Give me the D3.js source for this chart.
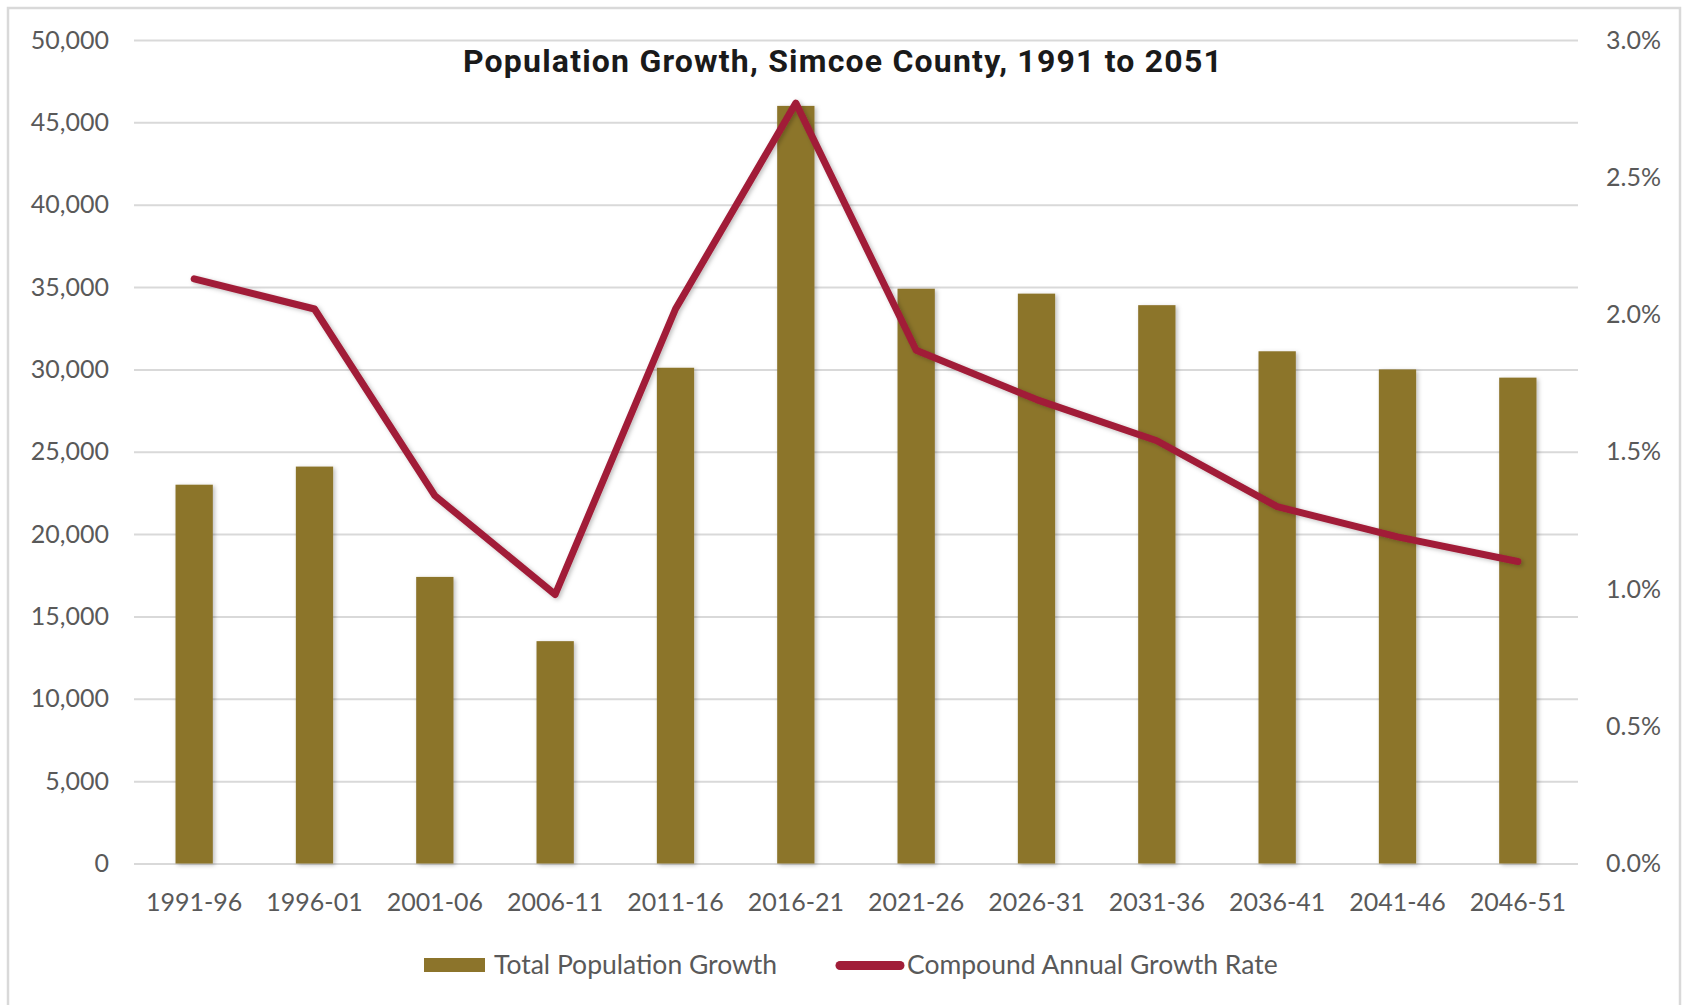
<!DOCTYPE html>
<html>
<head>
<meta charset="utf-8">
<script src="https://cdn.jsdelivr.net/npm/d3@7"></script>
<style>
  html, body { margin: 0; padding: 0; background: #ffffff; }
  svg { display: block; }
</style>
</head>
<body>
<svg id="chart" width="1686" height="1005"></svg>
<script>
// Five-year periods
const periods = ["1991-96", "1996-01", "2001-06", "2006-11", "2011-16", "2016-21",
                 "2021-26", "2026-31", "2031-36", "2036-41", "2041-46", "2046-51"];
// Total population growth per period (persons)
const populationGrowth = [23000, 24100, 17400, 13500, 30100, 46000,
                          34900, 34600, 33900, 31100, 30000, 29500];
// Compound annual growth rate per period (%)
const growthRate = [2.13, 2.02, 1.34, 0.98, 2.02, 2.77,
                    1.87, 1.69, 1.54, 1.30, 1.19, 1.10];
// Axis ticks
const leftTicks = [0, 5000, 10000, 15000, 20000, 25000, 30000, 35000, 40000, 45000, 50000];
const rightTicks = [0, 0.5, 1.0, 1.5, 2.0, 2.5, 3.0];

const titleText = "Population Growth, Simcoe County, 1991 to 2051";
const seriesNames = ["Total Population Growth", "Compound Annual Growth Rate"];

const barColor = "#8c742b";
const lineColor = "#a11d38";
const textColor = "#595959";
const gridColor = "#d9d9d9";
const font = "Lato, 'Open Sans', sans-serif";

const svg = d3.select("#chart");

// Outer frame
svg.append("rect")
  .attr("x", 8).attr("y", 8).attr("width", 1672).attr("height", 1010)
  .attr("fill", "none").attr("stroke", "#d9d9d9").attr("stroke-width", 2.5);

const plot = { left: 134, right: 1578, top: 40, bottom: 863.5 };

const x = d3.scaleBand().domain(periods)
  .range([plot.left, plot.right]).paddingInner(0.69).paddingOuter(0.345);
const yLeft = d3.scaleLinear().domain([0, 50000]).range([plot.bottom, plot.top]);
const yRight = d3.scaleLinear().domain([0, 3.0]).range([plot.bottom, plot.top]);

// Soft shadow used by bars and line
const defs = svg.append("defs");
const shadow = defs.append("filter").attr("id", "soft").attr("x", "-20%").attr("y", "-5%")
  .attr("width", "160%").attr("height", "115%");
shadow.append("feDropShadow").attr("dx", 2).attr("dy", 1.5).attr("stdDeviation", 2)
  .attr("flood-color", "#000").attr("flood-opacity", 0.25);

// Gridlines
const grid = svg.append("g")
  .attr("transform", `translate(${plot.left},0)`)
  .call(d3.axisLeft(yLeft).tickValues(leftTicks).tickSize(-(plot.right - plot.left)).tickFormat(""));
grid.select(".domain").remove();
grid.selectAll(".tick line").attr("stroke", gridColor).attr("stroke-width", 2);

// Left axis labels
const leftAxis = svg.append("g")
  .attr("transform", `translate(${plot.left},0)`)
  .call(d3.axisLeft(yLeft).tickValues(leftTicks).tickSize(0).tickPadding(25)
    .tickFormat(d3.format(",")));
leftAxis.select(".domain").remove();
leftAxis.selectAll("text").attr("fill", textColor).style("font-family", font).style("font-size", "25px");

// Right axis labels
const rightAxis = svg.append("g")
  .attr("transform", `translate(${plot.right},0)`)
  .call(d3.axisRight(yRight).tickValues(rightTicks).tickSize(0).tickPadding(28)
    .tickFormat(d => d3.format(".1f")(d) + "%"));
rightAxis.select(".domain").remove();
rightAxis.selectAll("text").attr("fill", textColor).style("font-family", font).style("font-size", "25px");

// Category axis labels
const bottomAxis = svg.append("g")
  .attr("transform", `translate(0,${plot.bottom})`)
  .call(d3.axisBottom(x).tickSize(0).tickPadding(30));
bottomAxis.select(".domain").remove();
bottomAxis.selectAll("text").attr("fill", textColor).style("font-family", font).style("font-size", "25px");

// Bars
svg.append("g").attr("filter", "url(#soft)")
  .selectAll("rect").data(periods).join("rect")
  .attr("x", d => x(d))
  .attr("width", x.bandwidth())
  .attr("y", (d, i) => yLeft(populationGrowth[i]))
  .attr("height", (d, i) => yLeft(0) - yLeft(populationGrowth[i]))
  .attr("fill", barColor);

// Growth-rate line
const line = d3.line()
  .x((d, i) => x(periods[i]) + x.bandwidth() / 2)
  .y(d => yRight(d));
svg.append("path")
  .datum(growthRate)
  .attr("d", line)
  .attr("fill", "none")
  .attr("stroke", lineColor)
  .attr("stroke-width", 7)
  .attr("stroke-linejoin", "round")
  .attr("stroke-linecap", "round")
  .attr("filter", "url(#soft)");

// Title
svg.append("text")
  .attr("x", 843).attr("y", 72)
  .attr("text-anchor", "middle")
  .attr("fill", "#1a1a1a")
  .style("font-family", "Roboto, 'Liberation Sans', sans-serif")
  .style("font-weight", "bold")
  .style("font-size", "32px")
  .style("letter-spacing", "1.2px")
  .text(titleText);

// Legend
const legend = svg.append("g");
legend.append("rect")
  .attr("x", 424).attr("y", 958).attr("width", 61).attr("height", 14)
  .attr("fill", barColor);
legend.append("text")
  .attr("x", 494).attr("y", 974)
  .attr("fill", textColor).style("font-family", font).style("font-size", "26.5px")
  .text(seriesNames[0]);
legend.append("line")
  .attr("x1", 840).attr("x2", 900).attr("y1", 965.5).attr("y2", 965.5)
  .attr("stroke", lineColor).attr("stroke-width", 9).attr("stroke-linecap", "round");
legend.append("text")
  .attr("x", 907).attr("y", 974)
  .attr("fill", textColor).style("font-family", font).style("font-size", "26.5px")
  .text(seriesNames[1]);
</script>
</body>
</html>
